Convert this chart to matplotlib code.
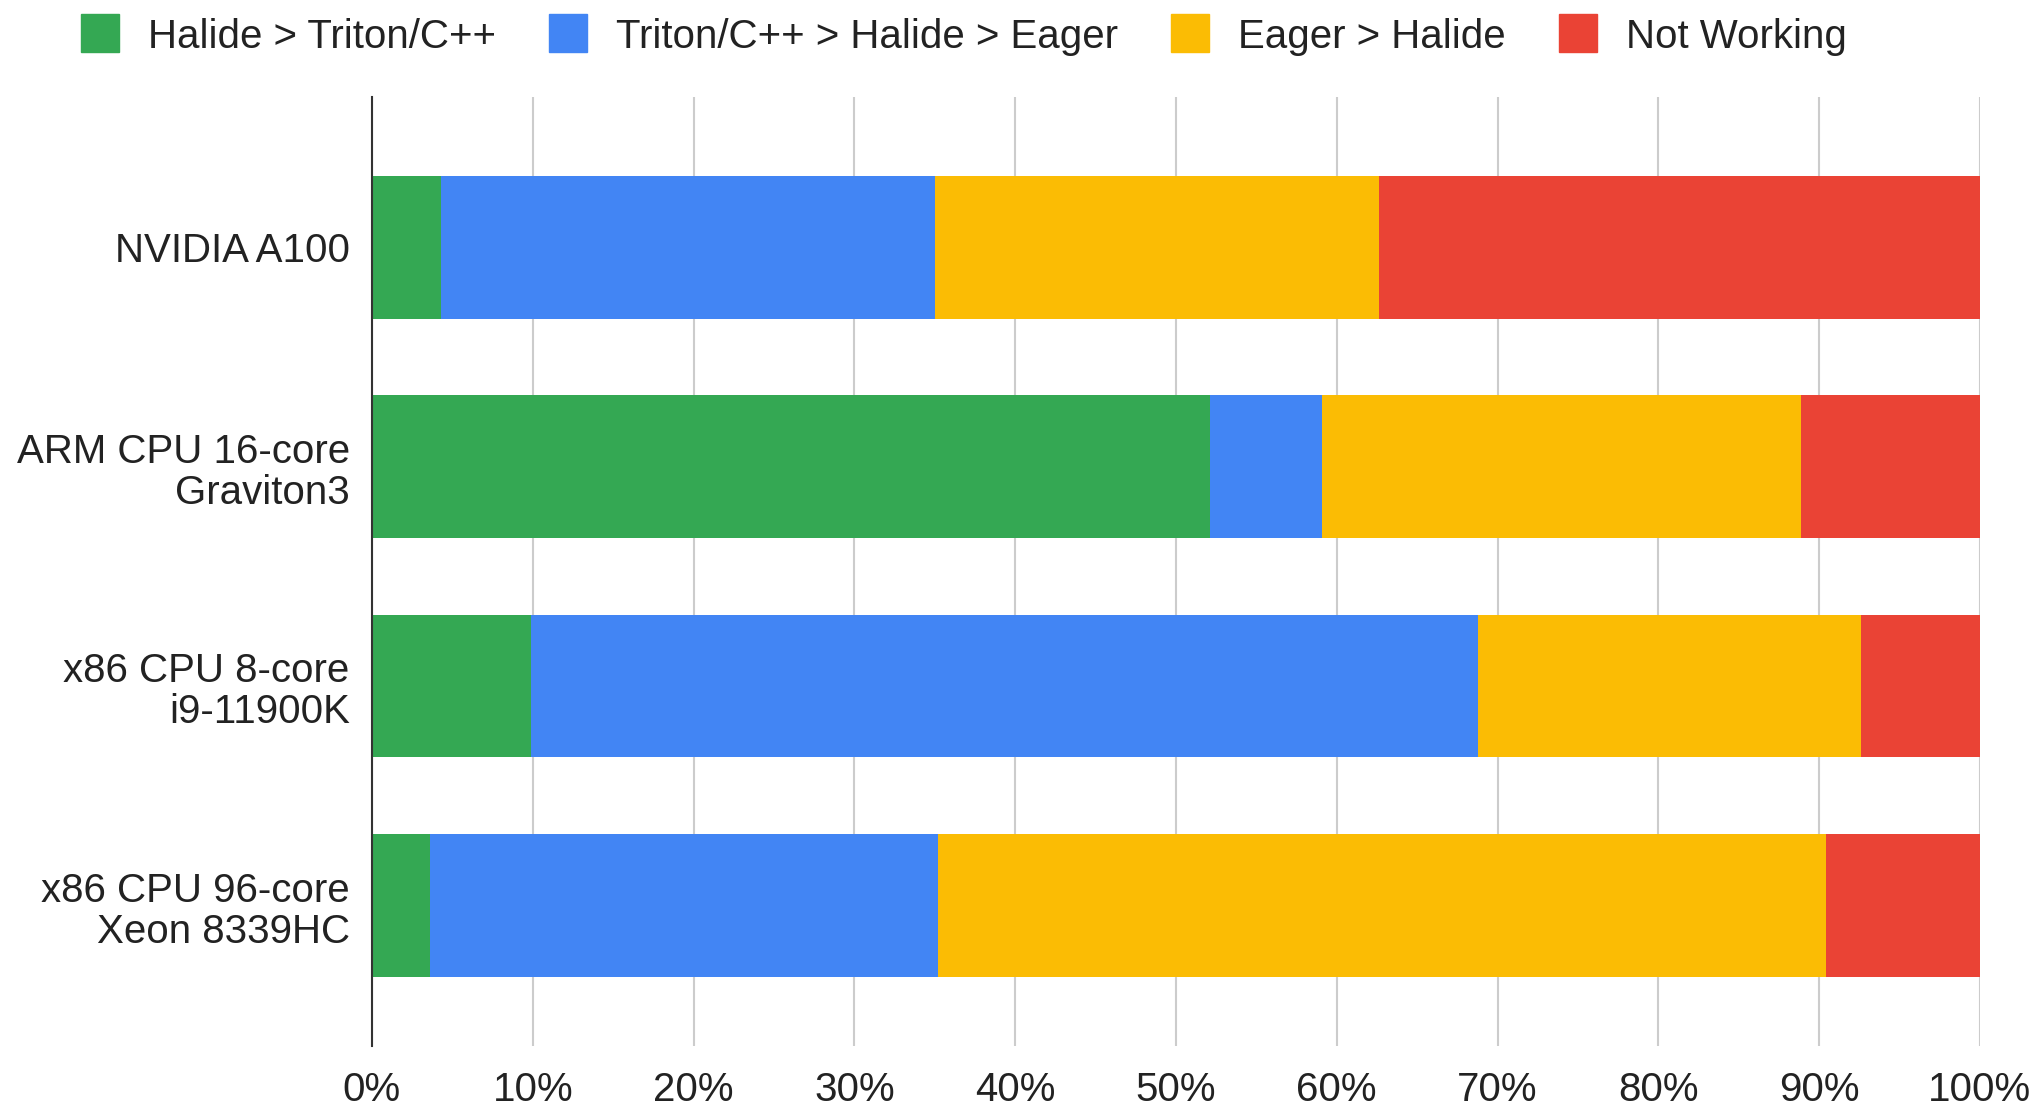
import matplotlib.pyplot as plt
from matplotlib.lines import Line2D
import numpy as np

plt.rcParams['font.family'] = ['Liberation Sans', 'DejaVu Sans']

devices = ["NVIDIA A100", "ARM CPU 16-core\nGraviton3",
           "x86 CPU 8-core\ni9-11900K", "x86 CPU 96-core\nXeon 8339HC"]
series = ["Halide > Triton/C++", "Triton/C++ > Halide > Eager",
          "Eager > Halide", "Not Working"]
colors = ["#34A853", "#4285F4", "#FBBC04", "#EA4335"]

# percent of benchmarks per device
halide_best = [4.3, 52.1, 9.9, 3.6]
triton_best = [30.7, 7.0, 58.9, 31.6]
eager_best = [27.6, 29.8, 23.8, 55.2]
not_working = [37.4, 11.1, 7.4, 9.6]
values = [halide_best, triton_best, eager_best, not_working]

fig = plt.figure(figsize=(20.38, 11.08), dpi=100)
ax = fig.add_axes([0.1825, 0.056, 0.789, 0.8565])

y = np.arange(len(devices))
left = np.zeros(len(devices))
for name, vals, c in zip(series, values, colors):
    ax.barh(y, vals, left=left, height=0.65, color=c, label=name, zorder=2)
    left += np.array(vals)

ax.set_xlim(0, 100)
ax.set_ylim(3.64, -0.685)
ax.set_xticks(np.arange(0, 101, 10))
ax.set_xticklabels([f"{t}%" for t in range(0, 101, 10)])
ax.set_yticks(y)
ax.set_yticklabels(devices, linespacing=1.1)
ax.tick_params(axis='x', length=0, pad=18, labelsize=29, colors="#222222")
ax.tick_params(axis='y', length=0, pad=16, labelsize=29, colors="#222222")
ax.grid(axis='x', color="#cccccc", linewidth=1.5, zorder=0)
for s in ["top", "right", "bottom"]:
    ax.spines[s].set_visible(False)
ax.spines["left"].set_color("#333333")
ax.spines["left"].set_linewidth(1.5)
ax.spines["left"].set_zorder(3)

handles = [Line2D([], [], marker='s', linestyle='none', markersize=28,
                  markerfacecolor=c, markeredgecolor=c) for c in colors]
fig.legend(handles, series, loc='center left', bbox_to_anchor=(0.0226, 0.967),
           ncol=4, frameon=False, fontsize=29, handlelength=1.0,
           handletextpad=0.68, columnspacing=1.3, borderpad=0.35,
           labelcolor="#222222")

fig.savefig("out.png", dpi=100)
